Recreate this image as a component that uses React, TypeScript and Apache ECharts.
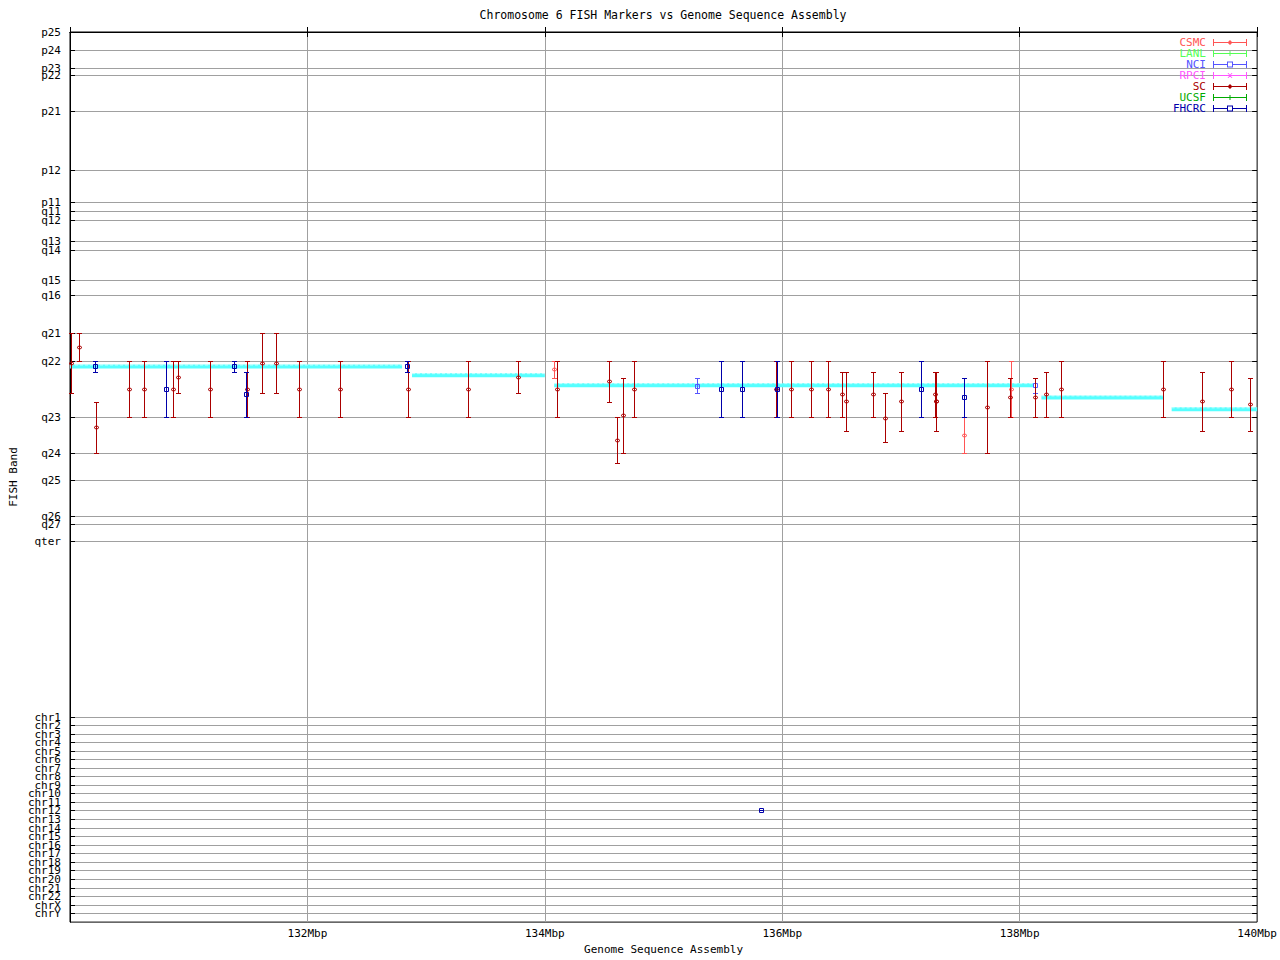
import React, { useEffect, useRef } from "react";
import * as echarts from "echarts";

const FONT = "'DejaVu Sans Mono', monospace";

// FISH band ruler (band coordinate, 0 = top of the plot, 894 = bottom)
const bandNames = [
  "p25", "p24", "p23", "p22", "p21", "p12", "p11", "q11", "q12", "q13", "q14", "q15", "q16",
  "q21", "q22", "q23", "q24", "q25", "q26", "q27", "qter",
  "chr1", "chr2", "chr3", "chr4", "chr5", "chr6", "chr7", "chr8", "chr9", "chr10", "chr11", "chr12",
  "chr13", "chr14", "chr15", "chr16", "chr17", "chr18", "chr19", "chr20", "chr21", "chr22", "chrX", "chrY",
];
const bandPositions = [
  0, 18.3, 37, 43.3, 80.3, 139, 171.3, 180.3, 189.3, 210.3, 219.3, 249.5, 265,
  303.3, 331.3, 387.3, 423, 450, 486.3, 495, 511.3,
  688.3, 696.8, 705.3, 713.8, 722.3, 730.8, 739.3, 748, 756.5, 765, 773.8, 782.3,
  791, 799.6, 808.2, 816.8, 825.3, 834, 842.6, 851.2, 859.8, 868.3, 877, 885.4,
];
const Y_MIN = 0;
const Y_MAX = 894;

// x axis (Mbp)
const X_MIN = 130;
const X_MAX = 140;
const X_STEP = 2;
const xTickLabels = [132, 134, 136, 138, 140];

// Genome sequence assembly segments: [startMbp, endMbp, band]
const assemblySegments = [
  [130.0, 132.797, 336],
  [132.881, 134.0, 344.7],
  [134.079, 138.116, 354.7],
  [138.183, 139.213, 367],
  [139.28, 140.0, 379],
];

// FISH markers: [Mbp, bandTop, bandPoint, bandBottom]
const scMarkers = [
  [130.011, 303.3, 332.7, 363.3],
  [130.078, 303.3, 317.3, 331.3],
  [130.22, 372.3, 397.3, 423.3],
  [130.505, 331.3, 359.3, 387.3],
  [130.631, 331.3, 359.3, 387.3],
  [130.874, 331.3, 359.3, 387.3],
  [130.915, 331.3, 347.3, 363.3],
  [131.183, 331.3, 359.3, 387.3],
  [131.497, 331.3, 359.3, 387.3],
  [131.619, 303.3, 333.3, 363.3],
  [131.736, 303.3, 333.3, 363.3],
  [131.937, 331.3, 359.3, 387.3],
  [132.281, 331.3, 359.3, 387.3],
  [132.85, 331.3, 359.3, 387.3],
  [133.361, 331.3, 359.3, 387.3],
  [133.775, 331.3, 347.3, 363.3],
  [134.106, 331.3, 359.3, 387.3],
  [134.542, 331.3, 351.3, 372.3],
  [134.609, 387.3, 410.3, 433.3],
  [134.659, 348.3, 385.3, 423.3],
  [134.751, 331.3, 359.3, 387.3],
  [135.949, 331.3, 359.3, 387.3],
  [136.074, 331.3, 359.3, 387.3],
  [136.25, 331.3, 359.3, 387.3],
  [136.393, 331.3, 359.3, 387.3],
  [136.51, 342.3, 364.3, 387.3],
  [136.544, 342.3, 371.3, 401.3],
  [136.77, 342.3, 364.3, 387.3],
  [136.87, 363.3, 388.3, 412.3],
  [137.004, 342.3, 371.3, 401.3],
  [137.289, 342.3, 364.3, 387.3],
  [137.297, 342.3, 371.3, 401.3],
  [137.301, 342.3, 371.3, 401.3],
  [137.725, 331.3, 377.3, 423.3],
  [137.925, 348.3, 367.3, 387.3],
  [138.135, 348.3, 367.3, 387.3],
  [138.224, 342.3, 364.3, 387.3],
  [138.353, 331.3, 359.3, 387.3],
  [139.215, 331.3, 359.3, 387.3],
  [139.542, 342.3, 371.3, 401.3],
  [139.782, 331.3, 359.3, 387.3],
  [139.944, 348.3, 374, 401.3],
];
const csmcMarkers = [
  [134.081, 331.3, 339.3, 348.3],
  [137.532, 387.3, 405.3, 423.3],
  [137.934, 331.3, 359.3, 387.3],
];
const nciMarkers = [
  [135.282, 348.3, 356, 363.3],
  [138.135, 348.3, 355.3, 363.3],
];
const fhcrcMarkers = [
  [130.212, 331.3, 336.3, 342.3],
  [130.815, 331.3, 359.3, 387.3],
  [131.384, 331.3, 336.3, 342.3],
  [131.485, 342.3, 364.3, 387.3],
  [132.845, 331.3, 336.3, 342.3],
  [135.488, 331.3, 359.3, 387.3],
  [135.664, 331.3, 359.3, 387.3],
  [135.827, 782.3, 782.3, 782.3],
  [135.957, 331.3, 359.3, 387.3],
  [137.172, 331.3, 359.3, 387.3],
  [137.532, 348.3, 367, 387.3],
];
const lanlMarkers: number[][] = [];
const rpciMarkers: number[][] = [];
const ucsfMarkers: number[][] = [];

const sources = [
  { name: "CSMC", color: "#ff5555", marker: "diamond", data: csmcMarkers },
  { name: "LANL", color: "#55ff55", marker: "tick", data: lanlMarkers },
  { name: "NCI", color: "#5555ff", marker: "square", data: nciMarkers },
  { name: "RPCI", color: "#ff55ff", marker: "cross", data: rpciMarkers },
  { name: "SC", color: "#aa0000", marker: "diamond", data: scMarkers },
  { name: "UCSF", color: "#00aa00", marker: "tick", data: ucsfMarkers },
  { name: "FHCRC", color: "#0000aa", marker: "square", data: fhcrcMarkers },
];

const LEGEND_ICONS: Record<string, string> = {
  diamond:
    "path://M0,0h1v7h-1z M33,0h1v7h-1z M0,3h34v1h-34z M17,1l2.5,2.5l-2.5,2.5l-2.5,-2.5z",
  square:
    "path://M0,0h1v7h-1z M33,0h1v7h-1z M0,3h14v1h-14z M20,3h14v1h-14z M14,0.5h6v6h-6z M15,1.5v4h4v-4z",
  tick: "path://M0,0h1v7h-1z M33,0h1v7h-1z M0,3h34v1h-34z M16.5,1h1v5h-1z",
  cross:
    "path://M0,0h1v7h-1z M33,0h1v7h-1z M0,3h34v1h-34z M14.5,1h1l4,5h-1z M18.5,1h1l-4,5h-1z",
};

function crisp(v: number) {
  return Math.round(v - 0.5) + 0.5;
}

function makeErrorBarRenderer(marker: string) {
  return (params: any, api: any) => {
    const x = api.value(0);
    const pTop = api.coord([x, api.value(1)]);
    const pMid = api.coord([x, api.value(2)]);
    const pBot = api.coord([x, api.value(3)]);
    const color = api.visual("color");
    const cx = crisp(pTop[0]);
    const yT = crisp(pTop[1]);
    const yB = crisp(pBot[1]);
    const ym = crisp(pMid[1]);
    const st = { stroke: color, lineWidth: 1, fill: "none" };
    const children: any[] = [
      { type: "line", shape: { x1: cx, y1: yT, x2: cx, y2: yB }, style: st },
      { type: "line", shape: { x1: cx - 2.5, y1: yT, x2: cx + 2.5, y2: yT }, style: st },
      { type: "line", shape: { x1: cx - 2.5, y1: yB, x2: cx + 2.5, y2: yB }, style: st },
    ];
    if (marker === "square") {
      children.push({ type: "rect", shape: { x: cx - 2, y: ym - 2, width: 4, height: 4 }, style: st });
    } else if (marker === "diamond") {
      children.push({
        type: "polygon",
        shape: { points: [[cx, ym - 2], [cx + 2.5, ym], [cx, ym + 2], [cx - 2.5, ym]] },
        style: st,
      });
    } else if (marker === "cross") {
      children.push({ type: "line", shape: { x1: cx - 2, y1: ym - 2, x2: cx + 2, y2: ym + 2 }, style: st });
      children.push({ type: "line", shape: { x1: cx - 2, y1: ym + 2, x2: cx + 2, y2: ym - 2 }, style: st });
    } else {
      children.push({ type: "line", shape: { x1: cx - 1.5, y1: ym, x2: cx + 1.5, y2: ym }, style: st });
    }
    return { type: "group", children };
  };
}

function renderBand(params: any, api: any) {
  const pos = api.value(1);
  const l = api.coord([X_MIN, pos]);
  const r = api.coord([X_MAX, pos]);
  const y = crisp(l[1]);
  const children: any[] = [];
  if (pos > Y_MIN && pos < Y_MAX) {
    children.push({
      type: "line",
      shape: { x1: l[0], y1: y, x2: r[0], y2: y },
      style: { stroke: "#a0a0a0", lineWidth: 1 },
    });
    children.push({
      type: "line",
      shape: { x1: l[0], y1: y, x2: l[0] + 5, y2: y },
      style: { stroke: "#000", lineWidth: 1 },
    });
    children.push({
      type: "line",
      shape: { x1: r[0] - 5, y1: y, x2: r[0], y2: y },
      style: { stroke: "#000", lineWidth: 1 },
    });
  }
  children.push({
    type: "text",
    x: l[0] - 9,
    y: l[1],
    style: {
      text: bandNames[params.dataIndex],
      align: "right",
      verticalAlign: "middle",
      fill: "#000",
      fontSize: 11,
      fontFamily: FONT,
    },
  });
  return { type: "group", children };
}

function buildOption() {
  const series: any[] = [];
  series.push({
    name: "bands",
    type: "custom",
    silent: true,
    clip: false,
    z: 1,
    encode: { x: 0, y: 1 },
    data: bandPositions.map((p) => [X_MIN, p]),
    renderItem: renderBand,
  });
  assemblySegments.forEach((seg, i) => {
    series.push({
      name: "assembly" + i,
      type: "line",
      silent: true,
      showSymbol: false,
      z: 2,
      lineStyle: { color: "#55ffff", width: 4 },
      data: [
        [seg[0], seg[2]],
        [seg[1], seg[2]],
      ],
    });
    series.push({
      name: "assemblyDash" + i,
      type: "line",
      silent: true,
      showSymbol: false,
      z: 2,
      lineStyle: { color: "#ffffff", width: 1, type: [3, 2], opacity: 0.6 },
      data: [
        [seg[0], seg[2] - 1.5],
        [seg[1], seg[2] - 1.5],
      ],
    });
  });
  sources.forEach((s) => {
    series.push({
      name: s.name,
      type: "custom",
      z: 3,
      clip: false,
      itemStyle: { color: s.color },
      encode: { x: 0, y: [1, 2, 3] },
      data: s.data,
      renderItem: makeErrorBarRenderer(s.marker),
    });
  });

  return {
    animation: false,
    backgroundColor: "#ffffff",
    title: {
      text: "Chromosome 6 FISH Markers vs Genome Sequence Assembly",
      left: 663,
      top: 9,
      padding: 0,
      textAlign: "center",
      textStyle: { fontFamily: FONT, fontSize: 11.5, fontWeight: "normal", color: "#000" },
    },
    legend: {
      orient: "vertical",
      right: 33,
      top: 37,
      padding: 0,
      align: "right",
      itemWidth: 34,
      itemHeight: 7,
      itemGap: 0,
      selectedMode: false,
      textStyle: { fontFamily: FONT, fontSize: 11, lineHeight: 11, padding: [0, 2, 0, 0] },
      data: sources.map((s) => ({
        name: s.name,
        icon: LEGEND_ICONS[s.marker],
        textStyle: { color: s.color },
      })),
    },
    grid: {
      left: 66,
      right: 20,
      top: 32,
      bottom: 34,
      show: true,
      borderColor: "#000",
      borderWidth: 1,
      backgroundColor: "transparent",
    },
    xAxis: [
      {
        type: "value",
        min: X_MIN,
        max: X_MAX,
        interval: X_STEP,
        name: "Genome Sequence Assembly",
        nameLocation: "middle",
        nameGap: 21,
        nameTextStyle: { fontFamily: FONT, fontSize: 11, color: "#000" },
        axisLine: { show: true, lineStyle: { color: "#000" } },
        axisTick: { show: true, inside: true, length: 5, lineStyle: { color: "#000" } },
        axisLabel: {
          margin: 6,
          fontFamily: FONT,
          fontSize: 11,
          color: "#000",
          formatter: (v: number) => (xTickLabels.indexOf(v) >= 0 ? v + "Mbp" : ""),
        },
        splitLine: {
          show: true,
          showMinLine: false,
          showMaxLine: false,
          lineStyle: { color: "#a0a0a0", width: 1 },
        },
      },
      {
        type: "value",
        position: "top",
        min: X_MIN,
        max: X_MAX,
        interval: X_STEP,
        axisLine: { show: true, lineStyle: { color: "#000" } },
        axisTick: { show: true, inside: true, length: 5, lineStyle: { color: "#000" } },
        axisLabel: { show: false },
        splitLine: { show: false },
      },
    ],
    yAxis: {
      type: "value",
      min: Y_MIN,
      max: Y_MAX,
      inverse: true,
      name: "FISH Band",
      nameLocation: "middle",
      nameGap: 51,
      nameRotate: 90,
      nameTextStyle: { fontFamily: FONT, fontSize: 11, color: "#000" },
      axisLine: { show: true, lineStyle: { color: "#000" } },
      axisTick: { show: false },
      axisLabel: { show: false },
      splitLine: { show: false },
    },
    series,
  };
}

export default function App() {
  const ref = useRef<HTMLDivElement>(null);
  useEffect(() => {
    if (!ref.current) return;
    const chart = echarts.init(ref.current, null, { renderer: "svg" });
    chart.setOption(buildOption() as any);
    return () => chart.dispose();
  }, []);
  return (
    <div
      ref={ref}
      style={{ position: "fixed", left: 0, top: 0, width: 1280, height: 960, background: "#fff" }}
    />
  );
}
